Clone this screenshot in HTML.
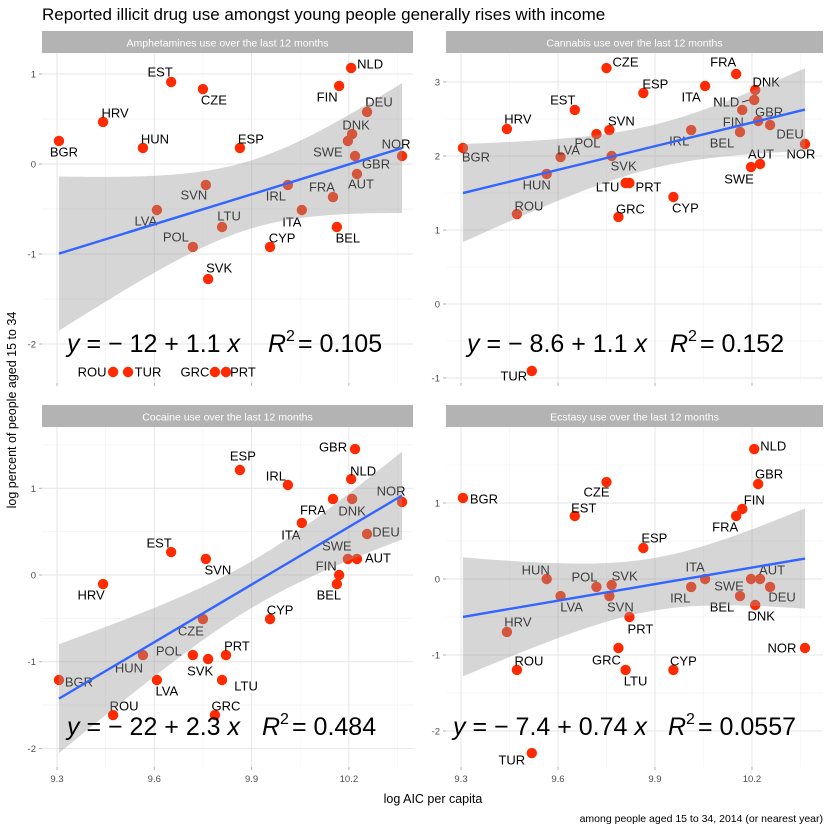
<!DOCTYPE html>
<html><head><meta charset="utf-8"><style>
html,body{margin:0;padding:0;background:#fff}
svg{display:block;font-family:"Liberation Sans",Arial,sans-serif}
</style></head><body>
<svg id="chart" width="830" height="829" viewBox="0 0 830 829"></svg>
<script>
const countries=["BGR","HRV","ROU","TUR","HUN","LVA","EST","POL","CZE","SVN","SVK","GRC","LTU","PRT","ESP","CYP","IRL","ITA","FRA","BEL","FIN","SWE","NLD","DNK","GBR","AUT","DEU","NOR"];
const logAIC=[9.306,9.442,9.473,9.519,9.565,9.608,9.652,9.719,9.750,9.759,9.766,9.787,9.809,9.821,9.864,9.957,10.012,10.055,10.151,10.163,10.170,10.197,10.207,10.210,10.219,10.225,10.256,10.364];
const amphetamines=[0.256,0.467,-2.311,-2.311,0.178,-0.511,0.911,-0.922,0.833,-0.233,-1.278,-2.311,-0.7,-2.311,0.178,-0.922,-0.233,-0.511,-0.367,-0.7,0.867,0.256,1.067,0.333,0.089,-0.111,0.578,0.089];
const cannabis=[2.108,2.365,1.216,-0.905,1.757,1.986,2.622,2.297,3.189,2.351,2.0,1.176,1.635,1.635,2.851,1.446,2.351,2.946,3.108,2.324,2.622,1.851,2.757,2.892,2.473,1.892,2.419,2.162];
const cocaine=[-1.211,-0.104,-1.615,null,-0.923,-1.211,0.265,-0.923,-0.508,0.185,-0.969,-1.615,-1.211,-0.923,1.211,-0.508,1.038,0.6,0.877,-0.104,0,0.185,1.107,0.877,1.453,0.185,0.473,0.842];
const ecstasy=[1.066,-0.697,-1.197,-2.29,0,-0.224,0.829,-0.105,1.276,-0.224,-0.079,-0.908,-1.197,-0.5,0.408,-1.197,-0.105,0,0.83,-0.224,0.921,0,1.71,-0.342,1.25,0,-0.105,-0.908];
const panelTitles=["Amphetamines use over the last 12 months","Cannabis use over the last 12 months","Cocaine use over the last 12 months","Ecstasy use over the last 12 months"];
const eqIntercepts=["12","8.6","22","7.4"];
const eqSlopes=["1.1","1.1","2.3","0.74"];
const eqR2=["0.105","0.152","0.484","0.0557"];
const xTicks=[9.3,9.6,9.9,10.2];
const xTickLabels=["9.3","9.6","9.9","10.2"];
const yTicksByPanel=[[-2,-1,0,1],[-1,0,1,2,3],[-2,-1,0,1],[-2,-1,0,1]];

const labOff=[
[[5,11],[12,-9],[-21,0],[20,0],[12,-9],[-11,11],[-11,-10],[-17,-10],[11,11],[-12,10],[11,-11],[-20,0],[7,-11],[17,0],[11,-9],[12,-9],[-12,11],[-10,12],[-11,-10],[11,11],[-12,11],[-20,11],[19,-4],[4,-9],[21,8],[4,10],[12,-10],[-6,-12]],
[[13,9],[11,-10],[12,-8],[-18,5],[-10,11],[8,-7],[-12,-10],[-9,9],[19,-6],[12,-9],[12,10],[12,-8],[-18,4],[19,4],[12,-9],[12,11],[-12,11],[-14,11],[-13,-12],[-18,11],[-9,12],[-12,12],[-28,2],[11,-8],[11,-9],[1,-10],[20,9],[-4,10]],
[[20,2],[-12,11],[11,-9],[0,0],[-14,13],[10,11],[-12,-9],[-24,-4],[-12,12],[12,11],[-8,12],[11,-9],[24,6],[11,-9],[3,-14],[10,-9],[-12,-9],[-11,12],[-20,11],[-8,11],[-13,-9],[-11,-13],[12,-8],[0,12],[-22,-2],[21,-1],[19,-2],[-11,-11]],
[[21,1],[11,-10],[12,-9],[-20,7],[-11,-9],[11,11],[9,-8],[-12,-10],[-10,10],[11,11],[13,-9],[-12,12],[10,11],[11,12],[11,-10],[10,-9],[-11,11],[-10,-12],[-11,11],[-18,11],[12,-9],[-22,7],[19,-3],[6,11],[11,-10],[12,-9],[12,10],[-23,0]]
];
const panels=[
 {x0:42,x1:413,y0:53,y1:383,sy:31,px93:57,ppx:324.3,zero:164,ppy:90,eqx:67,eqy:352,rx:268},
 {x0:446,x1:823,y0:53,y1:383,sy:31,px93:461,ppx:323.3,zero:304,ppy:74,eqx:467,eqy:352,rx:670},
 {x0:42,x1:413,y0:427,y1:767,sy:405,px93:57,ppx:324.3,zero:575,ppy:86.7,eqx:67,eqy:735,rx:262},
 {x0:446,x1:823,y0:427,y1:767,sy:405,px93:461,ppx:323.3,zero:579,ppy:76,eqx:453,eqy:735,rx:668}
];
const series=[amphetamines,cannabis,cocaine,ecstasy];
const NS="http://www.w3.org/2000/svg";
const svg=document.getElementById('chart');
function mk(tag,attrs,parent){const e=document.createElementNS(NS,tag);for(const k in attrs)e.setAttribute(k,attrs[k]);(parent||svg).appendChild(e);return e;}

let t=mk('text',{x:42,y:20,'font-size':17,fill:'#000'});
t.textContent="Reported illicit drug use amongst young people generally rises with income";



panels.forEach((P,pi)=>{
 const g=mk('g',{});
 
 
 const X=v=>P.px93+(v-9.3)*P.ppx;
 const Y=v=>P.zero-v*P.ppy;
 mk('rect',{x:P.x0,y:P.y0,width:P.x1-P.x0,height:P.y1-P.y0,fill:'#fff'},g);
 const yt=yTicksByPanel[pi];
 for(let k=0;k<xTicks.length;k++){
  const xm=X(xTicks[k]+0.15);
  if(xm<P.x1) mk('line',{x1:xm,x2:xm,y1:P.y0,y2:P.y1,stroke:'#f2f2f2','stroke-width':0.6},g);
 }
 for(let k=0;k<yt.length;k++){
  [yt[k]-0.5,yt[k]+0.5].forEach(v=>{const yy=Y(v);if(yy>P.y0&&yy<P.y1)mk('line',{x1:P.x0,x2:P.x1,y1:yy,y2:yy,stroke:'#f2f2f2','stroke-width':0.6},g);});
 }
 xTicks.forEach((v,k)=>{
  const xx=X(v);
  const gl=mk('line',{x1:xx,x2:xx,y1:P.y0,y2:P.y1,stroke:'#e6e6e6','stroke-width':1},g);
  
  
  mk('line',{x1:xx,x2:xx,y1:P.y1,y2:P.y1+3,stroke:'#b3b3b3'},g);
  if(pi>=2){const tl=mk('text',{x:xx,y:P.y1+15,'font-size':9.5,fill:'#4d4d4d','text-anchor':'middle'},g);tl.textContent=xTickLabels[k];
   
   }
 });
 yt.forEach(v=>{
  const yy=Y(v);
  const gl=mk('line',{x1:P.x0,x2:P.x1,y1:yy,y2:yy,stroke:'#e6e6e6','stroke-width':1},g);
  
  
  mk('line',{x1:P.x0-3,x2:P.x0,y1:yy,y2:yy,stroke:'#b3b3b3'},g);
  const tl=mk('text',{x:P.x0-6,y:yy+3.5,'font-size':9.5,fill:'#4d4d4d','text-anchor':'end'},g);
  tl.textContent=String(v);
  
  
 });
 const st=mk('rect',{x:P.x0,y:P.sy,width:P.x1-P.x0,height:P.y0-P.sy,fill:'#b3b3b3'},g);
 
 
 const stt=mk('text',{x:(P.x0+P.x1)/2,y:P.sy+15.5,'font-size':10.5,fill:'#fff','text-anchor':'middle'},g);
 stt.textContent=panelTitles[pi];
 
 
 const ys=series[pi];
 const xs=[],yv=[];
 ys.forEach((v,i)=>{
  if(v===null)return;
  xs.push(logAIC[i]);yv.push(v);
  const c=mk('circle',{cx:X(logAIC[i]),cy:Y(v),r:5.2,fill:'#ff2a00'},g);
  
  
 });
 ys.forEach((v,i)=>{
  if(v===null)return;
  const o=labOff[pi][i];
  const lx=X(logAIC[i])+o[0], ly=Y(v)+o[1];
  if(pi===1&&countries[i]==="NLD") mk('line',{x1:lx+16,x2:X(logAIC[i])-5,y1:ly,y2:Y(v),stroke:'#000','stroke-width':1},g);
  const lt=mk('text',{x:lx,y:ly+4.5,'font-size':13,fill:'#000','text-anchor':'middle'},g);
  lt.textContent=countries[i];
  
  
 });
 const n=xs.length;
 const mx=xs.reduce((a,b)=>a+b,0)/n, my=yv.reduce((a,b)=>a+b,0)/n;
 let sxx=0,sxy=0;for(let i=0;i<n;i++){sxx+=(xs[i]-mx)**2;sxy+=(xs[i]-mx)*(yv[i]-my);}
 const b=sxy/sxx,a=my-b*mx;
 let sse=0;for(let i=0;i<n;i++)sse+=(yv[i]-a-b*xs[i])**2;
 const s=Math.sqrt(sse/(n-2)), tq=2.06;
 const xmin=Math.min(...xs),xmax=Math.max(...xs);
 const up=[],lo=[];
 for(let k=0;k<=60;k++){
  const xv=xmin+(xmax-xmin)*k/60;
  const f=a+b*xv, se=s*Math.sqrt(1/n+(xv-mx)**2/sxx);
  up.push([X(xv),Y(f+tq*se)]);lo.push([X(xv),Y(f-tq*se)]);
 }
 const d='M'+up.map(p=>p[0].toFixed(1)+','+p[1].toFixed(1)).join('L')+'L'+lo.reverse().map(p=>p[0].toFixed(1)+','+p[1].toFixed(1)).join('L')+'Z';
 const cp=mk('clipPath',{id:'clip'+pi},g);
 mk('rect',{x:P.x0,y:P.y0,width:P.x1-P.x0,height:P.y1-P.y0},cp);
 const band=mk('path',{d:d,fill:'#999',opacity:0.4,'clip-path':'url(#clip'+pi+')'},g);
 
 
 const ln=mk('line',{x1:X(xmin),y1:Y(a+b*xmin),x2:X(xmax),y2:Y(a+b*xmax),stroke:'#3366ff','stroke-width':2.4},g);
 
 
 const eq=mk('text',{x:P.eqx,y:P.eqy,'font-size':25,fill:'#000'},g);
 eq.innerHTML='<tspan font-style="italic">y</tspan>\u00a0=\u00a0\u2212\u00a0'+eqIntercepts[pi]+'\u00a0+\u00a0'+eqSlopes[pi]+'\u00a0<tspan font-style="italic">x</tspan>';
 
 
 const r1=mk('text',{x:P.rx,y:P.eqy,'font-size':25,fill:'#000','font-style':'italic'},g);
 r1.textContent='R';
 
 
 const r2=mk('text',{x:P.rx+18,y:P.eqy-11,'font-size':16,fill:'#000'},g);
 r2.textContent='2';
 
 
 const r3=mk('text',{x:P.rx+30,y:P.eqy,'font-size':25,fill:'#000'},g);
 r3.textContent='=\u00a0'+eqR2[pi];
 
 
});

t=mk('text',{x:433,y:803,'font-size':12.5,fill:'#000','text-anchor':'middle'});
t.textContent="log AIC per capita";


t=mk('text',{x:0,y:0,'font-size':12.5,fill:'#000','text-anchor':'middle',transform:'translate(16,410) rotate(-90)'});
t.textContent="log percent of people aged 15 to 34";


t=mk('text',{x:823,y:822,'font-size':10.5,fill:'#000','text-anchor':'end'});
t.textContent="among people aged 15 to 34, 2014 (or nearest year)";


</script>
</body></html>
